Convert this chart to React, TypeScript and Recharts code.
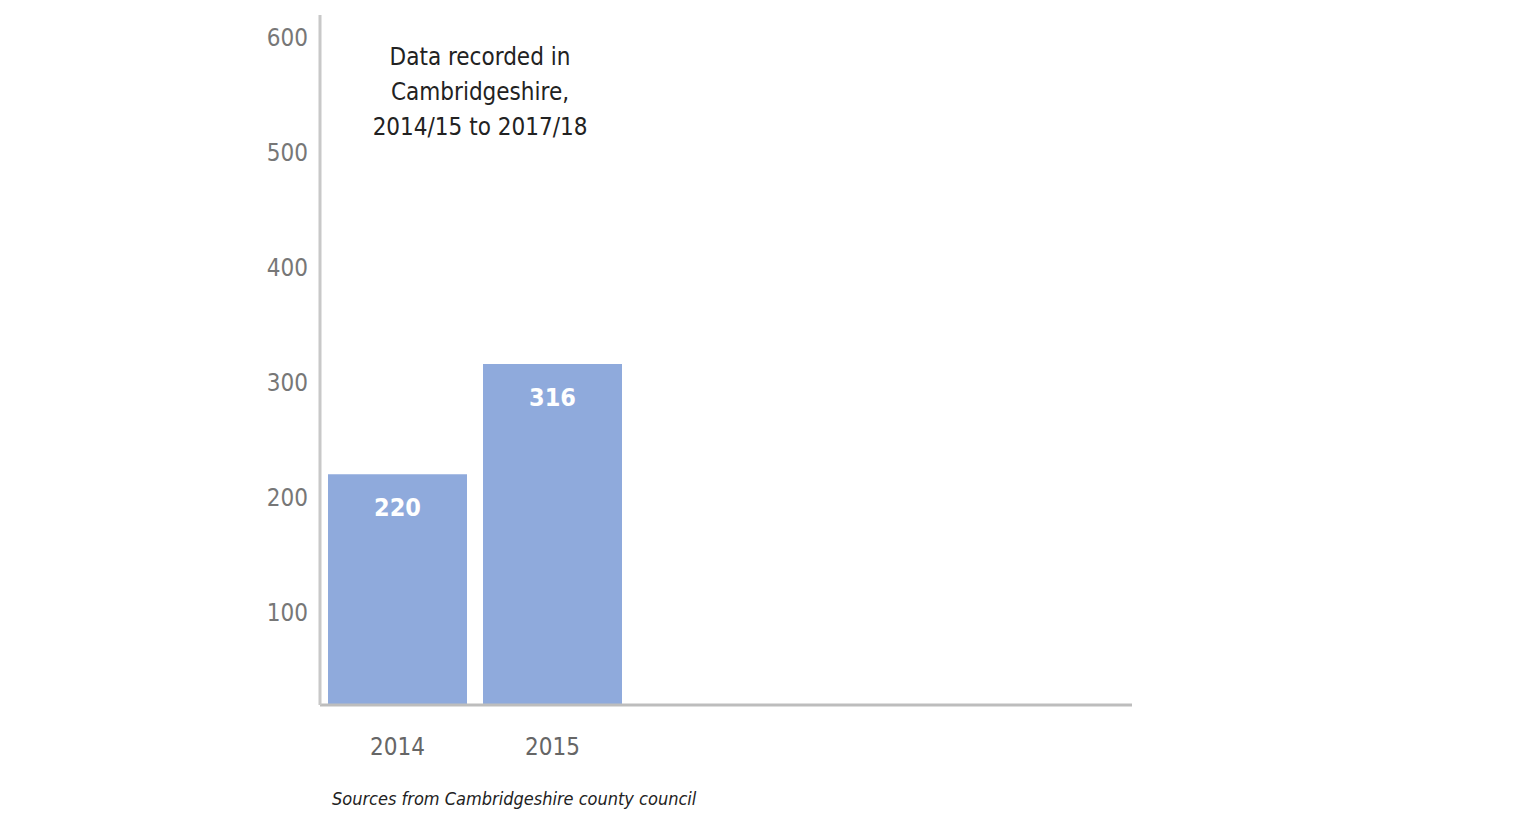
import { BarChart, Bar, XAxis, YAxis, LabelList } from "recharts";

const years = ["2014", "2015"];
const recorded = [220, 316];
const yTicks = [100, 200, 300, 400, 500, 600];
const titleLines = ["Data recorded in", "Cambridgeshire,", "2014/15 to 2017/18"];
const sourceNote = "Sources from Cambridgeshire county council";

const data = years.map((year, i) => ({ year, value: recorded[i] }));

const FONT = '"Liberation Sans Narrow", "DejaVu Sans Condensed", "Open Sans", sans-serif';

export default function App() {
  return (
    <div style={{ position: "absolute", left: 0, top: 0, width: 1522, height: 831, background: "#fff", fontFamily: FONT }}>
      <BarChart
        width={1522}
        height={831}
        data={data}
        margin={{ top: 15, right: 390, bottom: 0, left: 0 }}
        barCategoryGap={8}
      >
        <XAxis
          dataKey="year"
          axisLine={{ stroke: "#bdbdbd", strokeWidth: 3 }}
          tickLine={false}
          tickSize={0}
          tickMargin={33}
          padding={{ left: 0, right: 502 }}
          tick={{ fill: "#666", fontSize: 24, fontFamily: FONT }}
          height={126}
        />
        <YAxis
          type="number"
          domain={[19, 620]}
          ticks={yTicks}
          allowDataOverflow
          width={320}
          axisLine={{ stroke: "#c8c8c8", strokeWidth: 3 }}
          tickLine={false}
          tickSize={0}
          tickMargin={12}
          tick={{ fill: "#777", fontSize: 24, fontFamily: FONT }}
        />
        <Bar dataKey="value" fill="#8faadc" isAnimationActive={false}>
          <LabelList
            dataKey="value"
            position="insideTop"
            offset={24}
            fill="#fff"
            fontSize={25}
            fontWeight="bold"
            fontFamily={FONT}
          />
        </Bar>
      </BarChart>
      <div
        style={{
          position: "absolute",
          left: 330,
          top: 40,
          width: 300,
          textAlign: "center",
          fontSize: 24,
          lineHeight: "35px",
          color: "#222",
        }}
      >
        {titleLines.map((line) => (
          <div key={line}>{line}</div>
        ))}
      </div>
      <div
        style={{
          position: "absolute",
          left: 332,
          top: 788,
          fontSize: 18,
          fontStyle: "italic",
          color: "#222",
        }}
      >
        {sourceNote}
      </div>
    </div>
  );
}
